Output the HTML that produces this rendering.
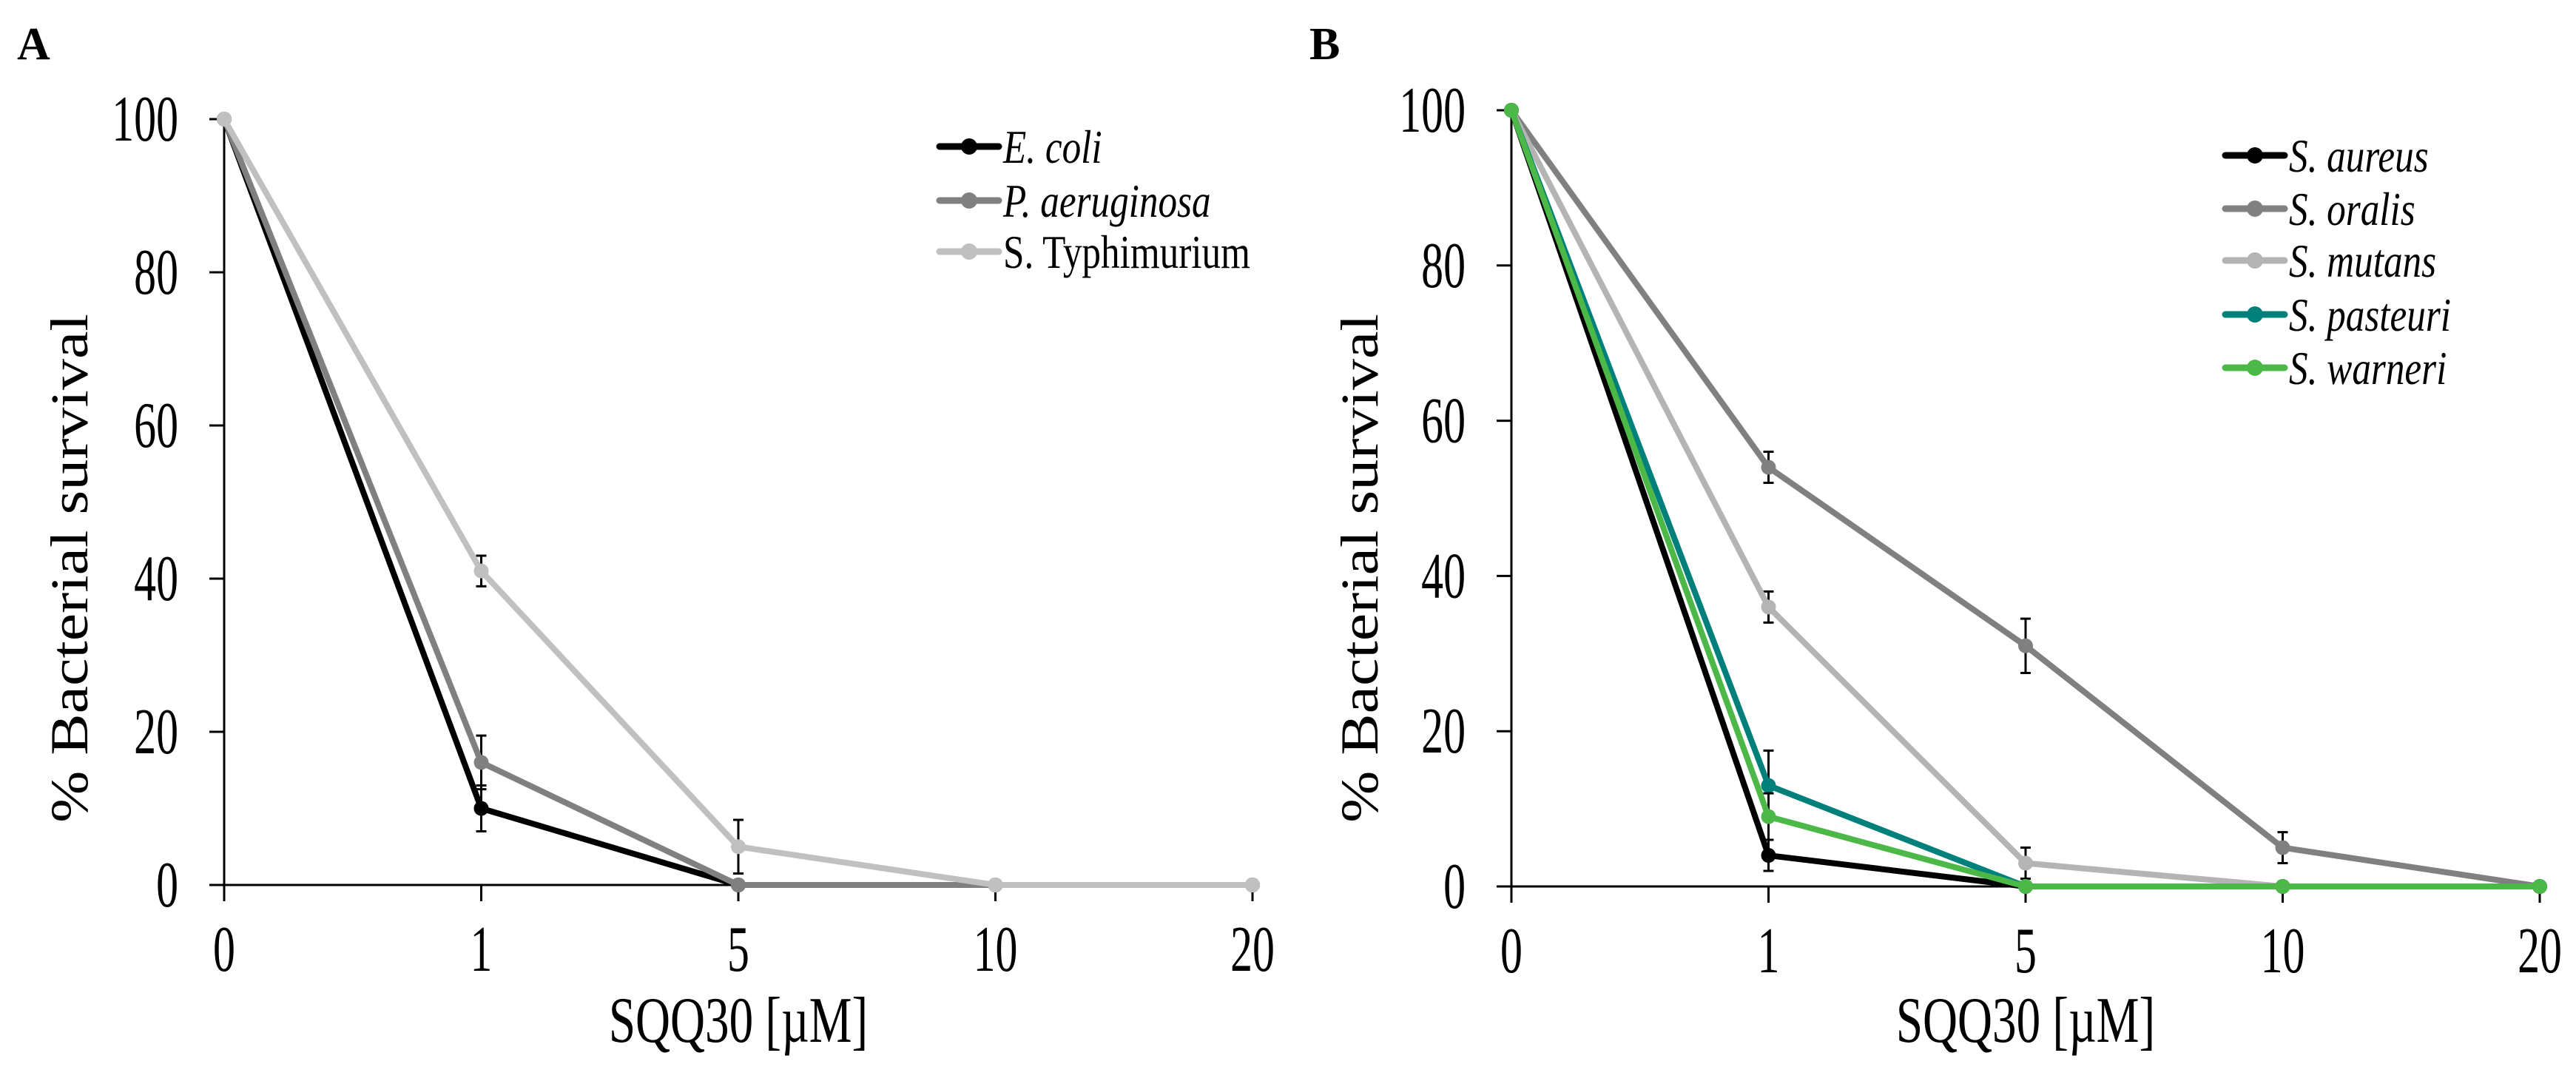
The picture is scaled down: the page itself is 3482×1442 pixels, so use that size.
<!DOCTYPE html>
<html><head><meta charset="utf-8"><style>
html,body{margin:0;padding:0;background:#fff;}
svg{display:block;font-family:"Liberation Serif",serif;}
</style></head><body>
<svg id="fig" width="3482" height="1442" viewBox="0 0 3482 1442" xmlns="http://www.w3.org/2000/svg"></svg>
<script>
const categories = ["0","1","5","10","20"];
const yTicks = [0,20,40,60,80,100];
// Panel A
const aNames = ["E. coli","P. aeruginosa","S. Typhimurium"];
const aItalic = [true,true,false];
const aColors = ["#000000","#808080","#c0c0c0"];
const aEcoli = [100,10,0,0,0];
const aPaer = [100,16,0,0,0];
const aStyph = [100,41,5,0,0];
const aEcoliErr = [0,3,0,0,0];
const aPaerErr = [0,3.5,0,0,0];
const aStyphErr = [0,2,3.5,0,0];
// Panel B
const bNames = ["S. aureus","S. oralis","S. mutans","S. pasteuri","S. warneri"];
const bColors = ["#000000","#808080","#b4b4b4","#00807a","#4cb848"];
const bAureus = [100,4,0,0,0];
const bOralis = [100,54,31,5,0];
const bMutans = [100,36,3,0,0];
const bPasteuri = [100,13,0,0,0];
const bWarneri = [100,9,0,0,0];
const bAureusErr = [0,2,0,0,0];
const bOralisErr = [0,2,3.5,2,0];
const bMutansErr = [0,2,2,0,0];
const bPasteuriErr = [0,4.5,0,0,0];
const bWarneriErr = [0,3,0,0,0];

const NS="http://www.w3.org/2000/svg";
const svg=document.getElementById('fig');
function el(tag,attrs,parent){const e=document.createElementNS(NS,tag);for(const k in attrs)e.setAttribute(k,attrs[k]);(parent||svg).appendChild(e);return e;}
function txt(s,x,y,size,opts,parent){
  opts=opts||{};
  const t=el('text',{x:0,y:0,'font-size':size,'text-anchor':opts.anchor||'start',fill:'#000',
    transform:`translate(${x},${y}) rotate(${opts.rot||0}) scale(${opts.sx||1},1)`},parent);
  if(opts.italic)t.setAttribute('font-style','italic');
  if(opts.bold)t.setAttribute('font-weight','bold');
  t.textContent=s;return t;
}

function panel(cfg){
  const g=el('g',{});
  
  
  const x0=cfg.x0, step=347.5, yTop=cfg.yTop, yBot=cfg.yBot;
  const X=i=>x0+i*step;
  const Y=v=>yBot-(v/100)*(yBot-yTop);
  const pl=txt(cfg.label,cfg.labelX,80,62,{bold:true},g);
  
  
  const ya=el('line',{x1:x0,y1:Y(100),x2:x0,y2:yBot+22,stroke:'#000','stroke-width':3},g);
  
  
  yTicks.forEach(v=>{
    const tk=el('line',{x1:x0-20,y1:Y(v),x2:x0,y2:Y(v),stroke:'#000','stroke-width':3},g);
    
    
    const tl=txt(String(v),x0-62,Y(v)+29,88,{anchor:'end',sx:0.68},g);
    
    
  });
  const xa=el('line',{x1:x0-20,y1:yBot,x2:X(4),y2:yBot,stroke:'#000','stroke-width':3},g);
  
  
  categories.forEach((c,i)=>{
    const tk=el('line',{x1:X(i),y1:yBot,x2:X(i),y2:yBot+22,stroke:'#000','stroke-width':3},g);
    
    
    const tl=txt(c,X(i),yBot+116,88,{anchor:'middle',sx:0.68},g);
    
    
  });
  const xt=txt("SQQ30 [µM]",x0+2*step,1408,88,{anchor:'middle',sx:0.74},g);
  
  
  const yt=txt("% Bacterial survival",cfg.yTitleX,cfg.yTitleY,72,{anchor:'middle',rot:-90,sx:1.17},g);
  
  
  cfg.series.forEach((s,si)=>{
    const sg=el('g',{},g);
    
    
    s.vals.forEach((v,i)=>{
      const e=s.err[i];
      if(e>0){
        const eb=el('path',{d:`M${X(i)} ${Y(v+e)}V${Y(Math.max(v-e,0))}M${X(i)-7} ${Y(v+e)}H${X(i)+7}M${X(i)-7} ${Y(Math.max(v-e,0))}H${X(i)+7}`,stroke:'#000','stroke-width':3,fill:'none'},sg);
        
        
      }
    });
    const ln=el('polyline',{points:s.vals.map((v,i)=>X(i)+','+Y(v)).join(' '),fill:'none',stroke:s.color,'stroke-width':8,'stroke-linejoin':'round'},sg);
    
    
    s.vals.forEach((v,i)=>{
      const p=el('circle',{cx:X(i),cy:Y(v),r:10,fill:s.color},sg);
      
      
    });
    const ly=cfg.legY[si];
    const lg=el('g',{},g);
    
    
    el('line',{x1:cfg.legX,y1:ly,x2:cfg.legX+80,y2:ly,stroke:s.color,'stroke-width':9,'stroke-linecap':'round'},lg);
    el('circle',{cx:cfg.legX+40,cy:ly,r:11,fill:s.color},lg);
    txt(s.name,cfg.legX+86,ly+22,64,{italic:s.italic,sx:0.8},lg);
  });
}

panel({id:'a',label:'A',labelX:23,x0:303,yTop:161,yBot:1196,yTitleX:118,yTitleY:768,legX:1270,legY:[198,271,340],
  series:[
   {name:aNames[0],color:aColors[0],italic:aItalic[0],vals:aEcoli,err:aEcoliErr},
   {name:aNames[1],color:aColors[1],italic:aItalic[1],vals:aPaer,err:aPaerErr},
   {name:aNames[2],color:aColors[2],italic:aItalic[2],vals:aStyph,err:aStyphErr}]});
panel({id:'b',label:'B',labelX:1770,x0:2043,yTop:149,yBot:1198,yTitleX:1862,yTitleY:768,legX:3008,legY:[210,282,352,425,497],
  series:[
   {name:bNames[0],color:bColors[0],italic:true,vals:bAureus,err:bAureusErr},
   {name:bNames[1],color:bColors[1],italic:true,vals:bOralis,err:bOralisErr},
   {name:bNames[2],color:bColors[2],italic:true,vals:bMutans,err:bMutansErr},
   {name:bNames[3],color:bColors[3],italic:true,vals:bPasteuri,err:bPasteuriErr},
   {name:bNames[4],color:bColors[4],italic:true,vals:bWarneri,err:bWarneriErr}]});
</script>
</body></html>
